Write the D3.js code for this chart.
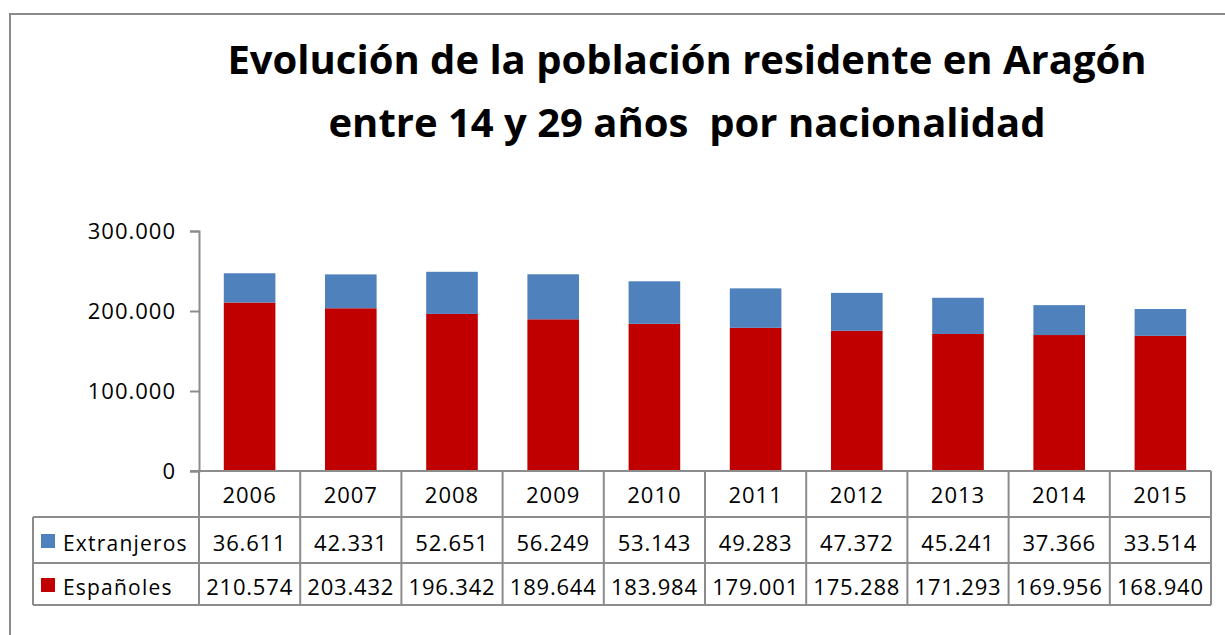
<!DOCTYPE html>
<html>
<head>
<meta charset="utf-8">
<script src="https://cdn.jsdelivr.net/npm/d3@7"></script>
<style>
  body { margin: 0; background: #fff; }
  svg text { font-family: "Open Sans", sans-serif; fill: #000; white-space: pre; }
</style>
</head>
<body>
<div class="chart"></div>
<script>
// Data
const years = ["2006", "2007", "2008", "2009", "2010", "2011", "2012", "2013", "2014", "2015"];
const extranjeros = [36611, 42331, 52651, 56249, 53143, 49283, 47372, 45241, 37366, 33514];
const espanoles = [210574, 203432, 196342, 189644, 183984, 179001, 175288, 171293, 169956, 168940];
const yTicks = [0, 100000, 200000, 300000];
const titleLines = ["Evolución de la población residente en Aragón", "entre 14 y 29 años  por nacionalidad"];

const series = [
  {key: "esp", name: "Españoles", color: "#C00000", values: espanoles},
  {key: "ext", name: "Extranjeros", color: "#4F81BD", values: extranjeros}
];
// table rows are listed top to bottom (Extranjeros first)
const tableRows = [series[1], series[0]];

const width = 1225, height = 635;
const plot = {left: 199, right: 1211, top: 231, bottom: 471};
const rowH = [46, 46, 42];
const legendLeft = 33;
const gridColor = "#8c8c8c";

const es = d3.formatLocale({decimal: ",", thousands: ".", grouping: [3], currency: ["", "€"]});
const fmt = es.format(",d");

const svg = d3.select(".chart").append("svg")
  .attr("width", width)
  .attr("height", height);

// outer chart border
svg.append("rect")
  .attr("x", 10).attr("y", 14)
  .attr("width", 1240).attr("height", 660)
  .attr("fill", "none")
  .attr("stroke", "#8a8a8a")
  .attr("stroke-width", 2);

// title
svg.append("g").selectAll("text")
  .data(titleLines)
  .join("text")
  .attr("x", 687)
  .attr("y", (d, i) => 74 + i * 63)
  .attr("text-anchor", "middle")
  .style("font-size", "40px")
  .style("font-weight", "bold")
  .text(d => d);

// scales
const x = d3.scaleBand().domain(years).range([plot.left, plot.right]).paddingInner(0.49).paddingOuter(0.245);
const xCell = d3.scaleBand().domain(years).range([plot.left, plot.right]);
const y = d3.scaleLinear().domain([0, 300000]).range([plot.bottom, plot.top]);

// stacked bars
const tableData = years.map((yr, i) => ({year: yr, esp: espanoles[i], ext: extranjeros[i]}));
const stacked = d3.stack().keys(series.map(s => s.key))(tableData);

svg.append("g").selectAll("g")
  .data(stacked)
  .join("g")
  .attr("fill", d => series.find(s => s.key === d.key).color)
  .selectAll("rect")
  .data(d => d)
  .join("rect")
  .attr("x", d => x(d.data.year))
  .attr("width", x.bandwidth())
  .attr("y", d => y(d[1]))
  .attr("height", d => y(d[0]) - y(d[1]));

// y axis
const yAxis = d3.axisLeft(y).tickValues(yTicks).tickFormat(fmt).tickSize(9).tickPadding(14);
const gy = svg.append("g")
  .attr("transform", `translate(${plot.left},0)`)
  .call(yAxis);
gy.select(".domain").attr("stroke", gridColor).attr("stroke-width", 2);
gy.selectAll(".tick line").attr("stroke", gridColor).attr("stroke-width", 2);
gy.selectAll(".tick text")
  .style("font-size", "22px")
  .style("letter-spacing", "1px")
  .attr("fill", "#000")
  .attr("dy", "0.36em");

// data table
const rowTop = [plot.bottom, plot.bottom + rowH[0], plot.bottom + rowH[0] + rowH[1]];
const tableBottom = rowTop[2] + rowH[2];
const table = svg.append("g")
  .attr("stroke", gridColor)
  .attr("stroke-width", 2);

// baseline (x axis) with tick to the left
table.append("line")
  .attr("x1", plot.left - 9).attr("x2", plot.right)
  .attr("y1", plot.bottom).attr("y2", plot.bottom);
// horizontal rules
[rowTop[1], rowTop[2], tableBottom].forEach(yy => {
  table.append("line")
    .attr("x1", legendLeft).attr("x2", plot.right)
    .attr("y1", yy).attr("y2", yy);
});
// vertical rules between categories
table.selectAll("line.v")
  .data(years.concat(["end"]))
  .join("line")
  .attr("class", "v")
  .attr("x1", d => d === "end" ? plot.right : xCell(d))
  .attr("x2", d => d === "end" ? plot.right : xCell(d))
  .attr("y1", plot.bottom)
  .attr("y2", tableBottom);
// legend column left edge
table.append("line")
  .attr("x1", legendLeft).attr("x2", legendLeft)
  .attr("y1", rowTop[1]).attr("y2", tableBottom);

// year labels
svg.append("g").selectAll("text")
  .data(years)
  .join("text")
  .attr("x", d => xCell(d) + xCell.bandwidth() / 2)
  .attr("y", plot.bottom + rowH[0] / 2)
  .attr("dy", "0.42em")
  .attr("text-anchor", "middle")
  .style("font-size", "22px")
  .style("letter-spacing", "1px")
  .text(d => d);

// value rows
tableRows.forEach((s, r) => {
  const cy = rowTop[r + 1] + rowH[r + 1] / 2;
  const g = svg.append("g");
  g.selectAll("text")
    .data(s.values)
    .join("text")
    .attr("x", (d, i) => xCell(years[i]) + xCell.bandwidth() / 2)
    .attr("y", cy)
    .attr("dy", "0.5em")
    .attr("text-anchor", "middle")
    .style("font-size", "22px")
    .style("letter-spacing", "0.8px")
    .text(d => fmt(d));
  g.append("rect")
    .attr("x", 41).attr("y", cy - 6)
    .attr("width", 14).attr("height", 14)
    .attr("fill", s.color);
  g.append("text")
    .attr("x", 63).attr("y", cy)
    .attr("dy", "0.5em")
    .style("font-size", "21px")
    .style("letter-spacing", "1.2px")
    .text(s.name);
});
</script>
</body>
</html>
